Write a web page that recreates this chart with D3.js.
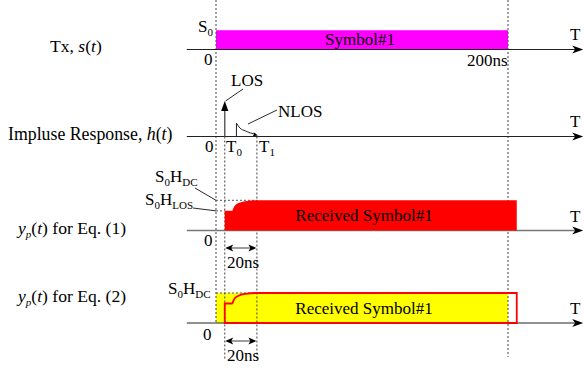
<!DOCTYPE html>
<html>
<head>
<meta charset="utf-8">
<script src="https://cdn.jsdelivr.net/npm/d3@7"></script>
<style>
  html, body { margin: 0; padding: 0; background: #fff; }
  svg { display: block; font-family: "Liberation Serif", "Times New Roman", serif; }
</style>
</head>
<body>
<svg id="chart" width="584" height="371"></svg>
<script>
// ---- timing (ns) ----
const symbolSpan = [0, 200];          // transmitted symbol start / end
const T0 = 6;                         // LOS arrival
const T1 = 28;                        // end of NLOS tail
const axisSpan = [-20, 251.5];        // drawn extent of every time axis

// ---- amplitudes (normalised per row) ----
const txLevel = 1;                    // S0
const losGain = 1;                    // LOS impulse height
const nlosT = [14, 16.5, 20, 23.5, 27.5];
const nlosH = [0.375, 0.235, 0.16, 0.10, 0.06];
const rxLosLevel = 0.65;              // S0·H_LOS
const rxDcLevel = 1;                  // S0·H_DC
const rxRiseT = [T0, 11, 12.3, 13.7, 15.5, 20, 27];
const rxRiseV = [rxLosLevel, rxLosLevel, 0.78, 0.86, 0.91, 0.97, rxDcLevel];

// ---- text ----
const symbolLabels = ["Symbol#1", "Received Symbol#1", "Received Symbol#1"];
const durationLabel = "20ns";
const endLabel = "200ns";

const svg = d3.select("#chart");
const x = d3.scaleLinear().domain(symbolSpan).range([216, 508]);

// baselines and heights of the four rows
const rowY = [49.5, 136.5, 230.5, 323];
const rowH = [19.3, 35.5, 30.2, 30];
const y = rowY.map((b, i) => d3.scaleLinear().domain([0, 1]).range([b, b - rowH[i]]));

const dash = "#555";
const gLayer = svg.append("g");

// stealth-style arrowhead pointing along `angle` (deg), tip at (tx,ty)
function arrowHead(g, tx, ty, angle, len, half, notch, fill) {
  const p = d3.path();
  p.moveTo(0, 0);
  p.lineTo(-len, -half);
  p.lineTo(-len + notch, 0);
  p.lineTo(-len, half);
  p.closePath();
  g.append("path").attr("d", p.toString())
    .attr("transform", `translate(${tx},${ty}) rotate(${angle})`)
    .attr("fill", fill || "#000");
}

// ---- row 1: transmitted symbol ----
gLayer.append("rect")
  .attr("x", x(symbolSpan[0])).attr("width", x(symbolSpan[1]) - x(symbolSpan[0]))
  .attr("y", y[0](txLevel)).attr("height", y[0](0) - y[0](txLevel))
  .attr("fill", "#ff00ff");

// ---- row 4: S0·H_DC · s(t) reference (yellow) ----
gLayer.append("rect")
  .attr("x", x(symbolSpan[0])).attr("width", x(symbolSpan[1]) - x(symbolSpan[0]))
  .attr("y", y[3](rxDcLevel)).attr("height", y[3](0) - y[3](rxDcLevel))
  .attr("fill", "#ffff00");

// ---- dashed time markers ----
const vGuides = [
  [x(0), 0, rowY[3]],
  [x(T0), rowY[1], 360],
  [x(T1), rowY[1], 360],
  [x(symbolSpan[1]), 0, 357]
];
vGuides.forEach(([gx, y1, y2]) => {
  gLayer.append("line").attr("x1", gx).attr("x2", gx).attr("y1", y1).attr("y2", y2)
    .attr("stroke", dash).attr("stroke-width", 1.1).attr("stroke-dasharray", "2,2");
});
// level guides
const hGuides = [
  [y[2](rxDcLevel), x(0), x(T1)],
  [y[2](rxLosLevel), x(0), x(T0)],
  [y[3](rxDcLevel), x(0), x(T1)]
];
hGuides.forEach(([gy, x1, x2]) => {
  gLayer.append("line").attr("x1", x1).attr("x2", x2).attr("y1", gy).attr("y2", gy)
    .attr("stroke", dash).attr("stroke-width", 1).attr("stroke-dasharray", "2,2");
});

// received waveform outline: step at T0, rise to H_DC, hold until end+T0
const rxPts = rxRiseT.map((t, i) => [t, rxRiseV[i]]);
rxPts.push([symbolSpan[1] + T0, rxDcLevel]);
function rxPath(sy) {
  const line = d3.line().x(d => x(d[0])).y(d => sy(d[1])).curve(d3.curveMonotoneX);
  const top = line(rxPts).slice(1);
  return `M${x(T0)},${sy(0)}L${top}L${x(symbolSpan[1] + T0)},${sy(0)}Z`;
}

// ---- axes ----
rowY.forEach((b, i) => {
  gLayer.append("line")
    .attr("x1", x(axisSpan[0])).attr("x2", x(axisSpan[1]) - 4)
    .attr("y1", b).attr("y2", b)
    .attr("stroke", i === 2 ? "#777" : "#222").attr("stroke-width", i === 2 ? 1.6 : 1.2);
  arrowHead(gLayer, x(axisSpan[1]), b, 0, 11, 4, 3);
});

// ---- row 3: received symbol (red fill) ----
gLayer.append("path").attr("d", rxPath(y[2])).attr("fill", "#ff0000");

// ---- row 4: received symbol (red outline) ----
gLayer.append("path").attr("d", rxPath(y[3]))
  .attr("fill", "none").attr("stroke", "#ff0000").attr("stroke-width", 1.8);

// ---- row 2: impulse response ----
gLayer.append("line")
  .attr("x1", x(T0)).attr("x2", x(T0))
  .attr("y1", y[1](0)).attr("y2", y[1](losGain) + 8)
  .attr("stroke", "#555").attr("stroke-width", 1.4);
arrowHead(gLayer, x(T0), y[1](losGain), -90, 10, 3.6, 0);

const nlosPts = nlosT.map((t, i) => [t, nlosH[i]]);
const nlosLine = d3.line().x(d => x(d[0])).y(d => y[1](d[1])).curve(d3.curveMonotoneX);
gLayer.append("path")
  .attr("d", `M${x(nlosT[0])},${y[1](0)}L${nlosLine(nlosPts).slice(1)}`)
  .attr("fill", "none").attr("stroke", "#222").attr("stroke-width", 1);
arrowHead(gLayer, x(T1) + 1, y[1](0) - 1, 15, 5, 2, 1);

// leader lines
const leaders = [
  [225.5, 101, 243, 89],
  [248, 124, 277, 110],
  [195, 188, x(0), y[2](rxDcLevel)],
  [193, 208, x(0), y[2](rxLosLevel)]
];
leaders.forEach(([a, b, c, d]) => {
  gLayer.append("line").attr("x1", a).attr("y1", b).attr("x2", c).attr("y2", d)
    .attr("stroke", "#111").attr("stroke-width", 0.9);
});

// 20ns dimension arrows
[248, 341].forEach(ay => {
  gLayer.append("line").attr("x1", x(T0) + 4).attr("x2", x(T1) - 4).attr("y1", ay).attr("y2", ay)
    .attr("stroke", "#666").attr("stroke-width", 1.3);
  arrowHead(gLayer, x(T0) + 0.5, ay, 180, 8, 3.5, 2);
  arrowHead(gLayer, x(T1) - 0.5, ay, 0, 8, 3.5, 2);
});

// ---- text ----
const fs = 17, sub = 11;
function txt(px, py, parts, anchor, size) {
  const t = gLayer.append("text").attr("x", px).attr("y", py)
    .attr("font-size", size || fs).attr("fill", "#000").attr("text-anchor", anchor || "start");
  parts.forEach(p => {
    const s = t.append("tspan").text(p.t);
    if (p.i) s.attr("font-style", "italic");
    if (p.sub) s.attr("font-size", sub).attr("dy", 4);
    if (p.up) s.attr("dy", -4);
  });
  return t;
}

// row titles
txt(50, 52, [{t: "Tx, "}, {t: "s", i: 1}, {t: "("}, {t: "t", i: 1}, {t: ")"}], "start", 17.6);
txt(8, 140, [{t: "Impluse Response, "}, {t: "h", i: 1}, {t: "("}, {t: "t", i: 1}, {t: ")"}], "start", 17.8);
[234, 302].forEach((by, k) => {
  txt(18, by, [{t: "y", i: 1}, {t: "p", i: 1, sub: 1}, {t: "(", up: 1}, {t: "t", i: 1}, {t: ") for Eq. (" + (k + 1) + ")"}], "start", 17.6);
});

// symbol labels
txt(360, 45, [{t: symbolLabels[0]}], "middle");
txt(364, 221, [{t: symbolLabels[1]}], "middle");
txt(364, 314, [{t: symbolLabels[2]}], "middle");

// amplitude labels
txt(198, 32, [{t: "S"}, {t: "0", sub: 1}]);
txt(155, 182, [{t: "S"}, {t: "0", sub: 1}, {t: "H", up: 1}, {t: "DC", sub: 1}]);
txt(145, 205, [{t: "S"}, {t: "0", sub: 1}, {t: "H", up: 1}, {t: "LOS", sub: 1}]);
txt(168, 294, [{t: "S"}, {t: "0", sub: 1}, {t: "H", up: 1}, {t: "DC", sub: 1}]);

// zero marks
[[204, 65], [205, 151.5], [204, 246], [203, 340]].forEach(([a, b]) => txt(a, b, [{t: "0"}]));

// impulse labels
txt(231, 86, [{t: "LOS"}]);
txt(278, 116.5, [{t: "NLOS"}]);
txt(226, 151.5, [{t: "T"}, {t: "0", sub: 1}]);
txt(259, 151.5, [{t: "T"}, {t: "1", sub: 1}]);

// time labels
txt(467, 66, [{t: endLabel}]);
txt(227, 268, [{t: durationLabel}]);
txt(227, 360.5, [{t: durationLabel}]);
[40, 127, 222, 314].forEach(by => txt(570, by, [{t: "T"}]));
</script>
</body>
</html>
